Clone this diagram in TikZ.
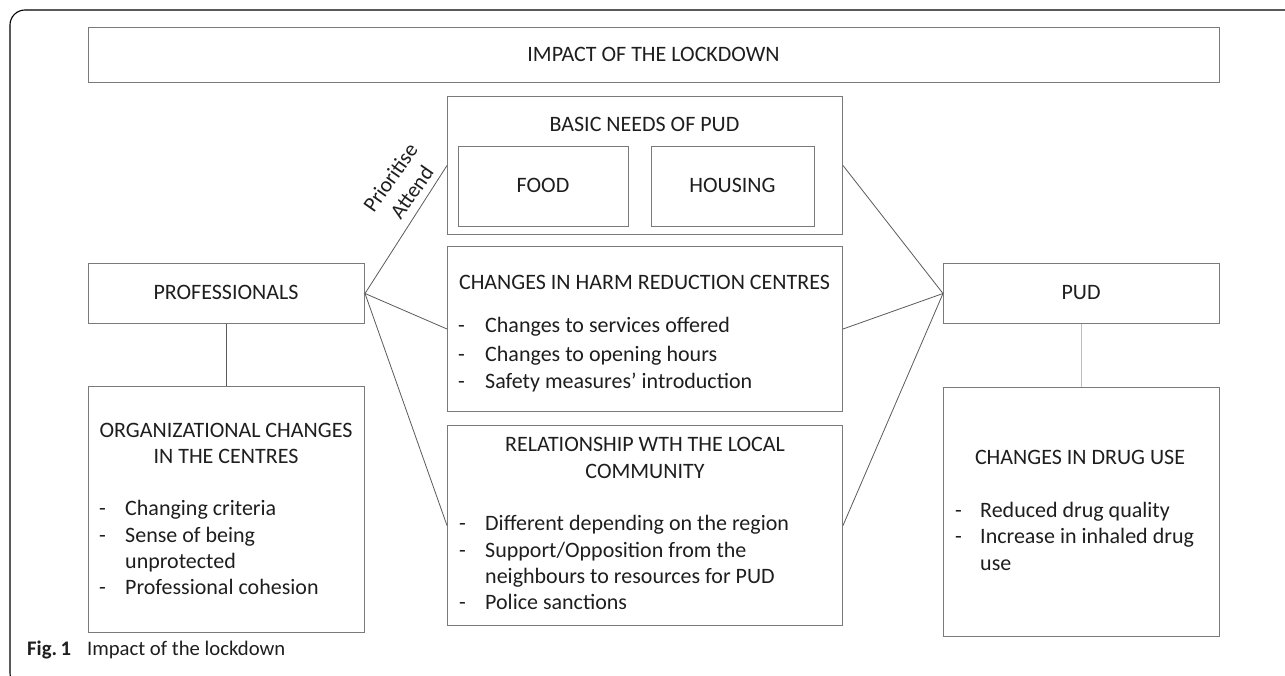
\documentclass[tikz,border=0pt]{standalone}
\usepackage{fontspec}
\setmainfont{Carlito}
\definecolor{boxgray}{HTML}{7A7A7A}
\definecolor{conngray}{HTML}{5A5A5A}
\definecolor{lightconn}{HTML}{BDBDBD}
\definecolor{textcol}{HTML}{1E1E1E}
\tikzset{
  box/.style={draw=boxgray, line width=1pt, inner sep=0pt, anchor=north west},
  conn/.style={draw=conngray, line width=0.8pt},
  txt/.style={inner sep=0pt, text=textcol, font=\fontsize{22}{26.7}\selectfont},
  ctxt/.style={txt, anchor=base},
  ltxt/.style={txt, anchor=base west},
  frame/.style={draw=black, line width=1.1pt, rounded corners=15pt}
}
\begin{document}
\begin{tikzpicture}[x=1pt,y=-1pt]
\useasboundingbox (0,0) rectangle (1285,676);
\begin{scope}
\clip (0,0) rectangle (1285,676);
\draw[frame] (1300,10) -- (10,10) -- (10,688) -- (300,688);
\end{scope}

% boxes
\node[box, minimum width=1131pt, minimum height=55pt] (title) at (88,27) {};
\node[box, minimum width=395pt, minimum height=138pt] (basic) at (447,96) {};
\node[box, minimum width=170pt, minimum height=80pt] (food) at (458,146) {};
\node[box, minimum width=163pt, minimum height=80pt] (housing) at (651,146) {};
\node[box, minimum width=395pt, minimum height=165pt] (hr) at (447,246) {};
\node[box, minimum width=395pt, minimum height=200pt] (rel) at (447,425) {};
\node[box, minimum width=276pt, minimum height=60pt] (prof) at (88,263) {};
\node[box, minimum width=276pt, minimum height=246pt] (org) at (88,386) {};
\node[box, minimum width=276pt, minimum height=60pt] (pud) at (943,263) {};
\node[box, minimum width=276pt, minimum height=249pt] (drug) at (943,387) {};

% connectors
\draw[conn] (prof.east) -- (basic.west);
\draw[conn] (prof.east) -- (hr.west);
\draw[conn] (prof.east) -- (rel.west);
\draw[conn] (basic.east) -- (pud.west);
\draw[conn] (hr.east) -- (pud.west);
\draw[conn] (rel.east) -- (pud.west);
\draw[conn] (prof.south) -- (org.north);
\draw[draw=lightconn, line width=0.9pt] (pud.south) -- (drug.north);

% texts
\node[ctxt] (tTitle) at (653.5,62) {IMPACT OF THE LOCKDOWN};
\node[ctxt] (tBasic) at (644.5,132) {BASIC NEEDS OF PUD};
\node[ctxt] (tFood) at (543,193) {FOOD};
\node[ctxt] (tHousing) at (732.5,193) {HOUSING};
\node[ctxt] (tProf) at (226,300) {PROFESSIONALS};
\node[ctxt] (tPud) at (1081,300) {PUD};

% HR centres
\node[ctxt] (tHr) at (644.5,290) {CHANGES IN HARM REDUCTION CENTRES};
\node[ltxt] (dHr1) at (458,333) {-};
\node[ltxt] (dHr2) at (458,361) {-};
\node[ltxt] (dHr3) at (458,388) {-};
\node[ltxt] (tHr1) at (485,333) {Changes to services offered};
\node[ltxt] (tHr2) at (485,361) {Changes to opening hours};
\node[ltxt] (tHr3) at (485,388) {Safety measures’ introduction};

% relationship
\node[ctxt] (tRelA) at (645,451) {RELATIONSHIP WTH THE LOCAL};
\node[ctxt] (tRelB) at (645,478) {COMMUNITY};
\node[ltxt] (dRel1) at (459,530) {-};
\node[ltxt] (dRel2) at (459,557) {-};
\node[ltxt] (dRel3) at (459,609) {-};
\node[ltxt] (tRel1) at (485,530) {Different depending on the region};
\node[ltxt] (tRel2) at (485,557) {Support/Opposition from the};
\node[ltxt] (tRel2b) at (485,583) {neighbours to resources for PUD};
\node[ltxt] (tRel3) at (485,609) {Police sanctions};

% organizational
\node[ctxt] (tOrgA) at (226,437) {ORGANIZATIONAL CHANGES};
\node[ctxt] (tOrgB) at (226,463) {IN THE CENTRES};
\node[ltxt] (dOrg1) at (99,515) {-};
\node[ltxt] (dOrg2) at (99,542) {-};
\node[ltxt] (dOrg3) at (99,594) {-};
\node[ltxt] (tOrg1) at (125,515) {Changing criteria};
\node[ltxt] (tOrg2) at (125,542) {Sense of being};
\node[ltxt] (tOrg2b) at (125,568) {unprotected};
\node[ltxt] (tOrg3) at (125,594) {Professional cohesion};

% drug use
\node[ctxt] (tDrug) at (1080,464) {CHANGES IN DRUG USE};
\node[ltxt] (dDrug1) at (955,517) {-};
\node[ltxt] (dDrug2) at (955,543) {-};
\node[ltxt] (tDrug1) at (980,517) {Reduced drug quality};
\node[ltxt] (tDrug2) at (980,543) {Increase in inhaled drug};
\node[ltxt] (tDrug2b) at (980,570) {use};

% rotated label
\node[inner sep=0pt, text=textcol, rotate=55, align=center, font=\fontsize{21.5}{26}\selectfont] (lbl) at (401,185) {Prioritise\\Attend};

% caption
\node[inner sep=0pt, anchor=base west, text=textcol, font=\fontsize{20.7}{24}\selectfont] (cap) at (27,655) {\textbf{Fig.\,1}\hspace{16pt}Impact of the lockdown};
\end{tikzpicture}
\end{document}
